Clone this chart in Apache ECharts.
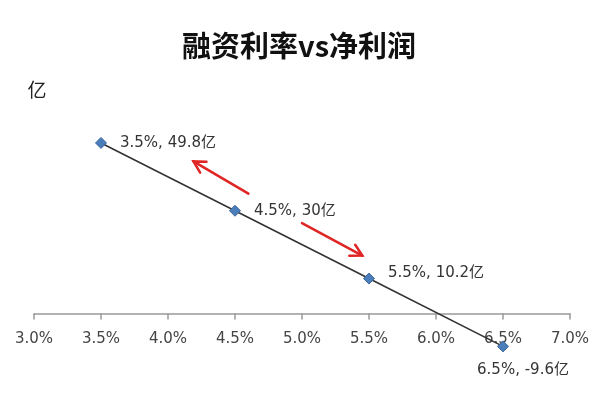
<!DOCTYPE html>
<html>
<head>
<meta charset="utf-8">
<script src="https://cdn.jsdelivr.net/npm/echarts@6/dist/echarts.min.js"></script>
<style>
html,body{margin:0;padding:0;background:#fff;}
#main{width:600px;height:400px;}
</style>
</head>
<body>
<div id="main"></div>
<script>
// Data
const rates = [3.5, 4.5, 5.5, 6.5];           // 融资利率 (%)
const profits = [49.8, 30, 10.2, -9.6];        // 净利润 (亿)
const xTickLabels = ['3.0%','3.5%','4.0%','4.5%','5.0%','5.5%','6.0%','6.5%','7.0%'];
const titleText = '融资利率vs净利润';
const unitText = '亿';
// red arrows: tail -> head, in data coordinates
const arrowTails = [[4.60, 35.0], [5.00, 26.4]];
const arrowHeads = [[4.19, 44.4], [5.45, 16.9]];

const points = rates.map((r, i) => [r, profits[i]]);
const arrowData = arrowTails.map((t, i) => [t[0], t[1], arrowHeads[i][0], arrowHeads[i][1]]);

const yMin = -20, yMax = 60;
const gridHeight = 274;
// distance of the zero line above the bottom of the plot area
const zeroOffset = gridHeight * (0 - yMin) / (yMax - yMin);

const chart = echarts.init(document.getElementById('main'));
const font = 'DejaVu Sans, Noto Sans CJK SC, sans-serif';

chart.setOption({
  animation: false,
  backgroundColor: '#fff',
  title: {
    text: titleText,
    left: 177,
    top: 26,
    textStyle: { fontSize: 29, fontWeight: 'bold', color: '#111', fontFamily: 'Noto Sans CJK SC' }
  },
  grid: { left: 34, right: 30, top: 108, height: gridHeight, outerBoundsMode: 'none', containLabel: false },
  xAxis: {
    type: 'value', min: 3, max: 7, interval: 0.5,
    position: 'bottom', offset: -zeroOffset,
    axisLine: { onZero: false, lineStyle: { color: '#999', width: 1.5 } },
    axisTick: { show: true, length: 6, lineStyle: { color: '#999', width: 1.5 } },
    axisLabel: {
      margin: 18, fontSize: 15, color: '#444', fontFamily: font,
      formatter: (v) => xTickLabels[Math.round((v - 3) / 0.5)]
    },
    splitLine: { show: false }
  },
  yAxis: {
    type: 'value', min: yMin, max: yMax, interval: 20,
    name: unitText, nameLocation: 'end', nameGap: 9,
    nameTextStyle: { fontSize: 19, color: '#222', fontFamily: 'Noto Sans CJK SC', align: 'center', padding: [0, 0, 0, 6] },
    axisLine: { show: false }, axisTick: { show: false }, axisLabel: { show: false },
    splitLine: { show: false }
  },
  series: [
    {
      type: 'line',
      data: points,
      symbol: 'diamond',
      symbolSize: 11,
      lineStyle: { color: '#333', width: 1.6 },
      itemStyle: { color: '#4a7ebb', borderColor: '#3a6599', borderWidth: 1 },
      z: 3,
      label: {
        show: true, position: 'right', distance: 13,
        fontSize: 15, color: '#333', fontFamily: font,
        formatter: (p) => p.value[0] + '%, ' + p.value[1] + unitText
      },
      labelLayout: (params) => {
        if (params.dataIndex === 3) {
          return { x: params.rect.x + 26, y: params.rect.y + 30, align: 'center', verticalAlign: 'middle' };
        }
        if (params.dataIndex === 2) {
          return { y: params.labelRect.y - 5 };
        }
        return {};
      }
    },
    {
      type: 'custom',
      data: arrowData,
      silent: true,
      renderItem: (params, api) => {
        const t = api.coord([api.value(0), api.value(1)]);
        const h = api.coord([api.value(2), api.value(3)]);
        const ang = Math.atan2(h[1] - t[1], h[0] - t[0]);
        const len = 13, spread = 0.5;
        const a1 = [h[0] - len * Math.cos(ang - spread), h[1] - len * Math.sin(ang - spread)];
        const a2 = [h[0] - len * Math.cos(ang + spread), h[1] - len * Math.sin(ang + spread)];
        const style = { stroke: '#e02525', lineWidth: 2.5, fill: null, lineCap: 'round', lineJoin: 'miter' };
        return {
          type: 'group',
          children: [
            { type: 'line', shape: { x1: t[0], y1: t[1], x2: h[0], y2: h[1] }, style: style },
            { type: 'polyline', shape: { points: [a1, h, a2] }, style: style }
          ]
        };
      }
    }
  ]
});
</script>
</body>
</html>
